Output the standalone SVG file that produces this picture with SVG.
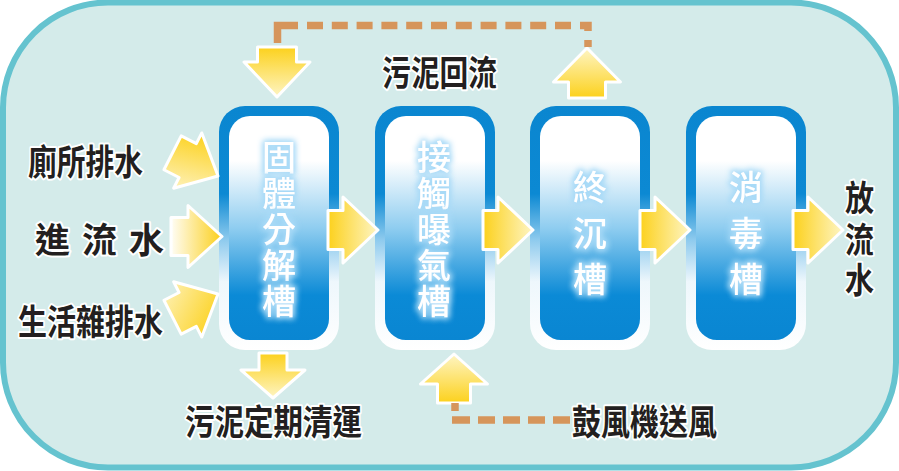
<svg xmlns="http://www.w3.org/2000/svg" width="899" height="471" viewBox="0 0 899 471">
<defs>
<style>
.lbl{font-family:"Noto Sans CJK TC","Noto Sans CJK SC",sans-serif;font-weight:700;font-size:35px;fill:#231f20;stroke:#ffffff;stroke-width:4px;paint-order:stroke;stroke-linejoin:round}
.tank{font-family:"Noto Sans CJK TC","Noto Sans CJK SC",sans-serif;font-weight:500;font-size:34px;fill:#ffffff;text-anchor:middle;filter:url(#glow)}
.arr{stroke:#ffffff;stroke-width:3;stroke-linejoin:round}
.dash{fill:none;stroke:#d6955b;stroke-width:7.5}
</style>
<linearGradient id="gOuter" x1="0" y1="0" x2="0" y2="1">
<stop offset="0" stop-color="#0a86d0"/>
<stop offset="0.36" stop-color="#0c89d3"/>
<stop offset="0.55" stop-color="#8fcbee"/>
<stop offset="0.72" stop-color="#eef7fc"/>
<stop offset="1" stop-color="#ffffff"/>
</linearGradient>
<linearGradient id="gInner" x1="0" y1="0" x2="0" y2="1">
<stop offset="0" stop-color="#ffffff"/>
<stop offset="0.2" stop-color="#ffffff"/>
<stop offset="0.5" stop-color="#8fcdf0"/>
<stop offset="0.8" stop-color="#0b8ad6"/>
<stop offset="1" stop-color="#0a86d2"/>
</linearGradient>
<linearGradient id="gTail" x1="0" y1="0" x2="1" y2="0">
<stop offset="0" stop-color="#fcd11c"/>
<stop offset="1" stop-color="#fef5c4"/>
</linearGradient>
<linearGradient id="gTip" x1="0" y1="0" x2="1" y2="0">
<stop offset="0" stop-color="#fffdf6"/>
<stop offset="1" stop-color="#fbcf19"/>
</linearGradient>
<linearGradient id="gUp" x1="0.4" y1="0" x2="0.6" y2="1">
<stop offset="0" stop-color="#fcd11c"/>
<stop offset="1" stop-color="#fef3c0"/>
</linearGradient>
<linearGradient id="gDn" x1="0" y1="0" x2="0.6" y2="1">
<stop offset="0" stop-color="#fef3c0"/>
<stop offset="1" stop-color="#fcd11c"/>
</linearGradient>
<filter id="glow" x="-40%" y="-40%" width="180%" height="180%">
<feMorphology in="SourceAlpha" operator="dilate" radius="1" result="d"/>
<feGaussianBlur in="d" stdDeviation="3" result="b"/>
<feFlood flood-color="#a8daf7"/>
<feComposite in2="b" operator="in" result="g"/>
<feMerge><feMergeNode in="g"/><feMergeNode in="g"/><feMergeNode in="SourceGraphic"/></feMerge>
</filter>
<path id="aBox" d="M-50,-19.5 H-35 V-33 L0,0 L-35,33 V19.5 H-50 Z"/>
<path id="aIn" d="M-51,-19 H-34 V-31 L0,0 L-34,31 V19 H-51 Z"/>
</defs>

<rect id="frame" x="3" y="2.5" width="893" height="465" rx="105" fill="#d4ebea" stroke="#65c3cf" stroke-width="6"/>

<g id="tank1">
<rect x="219" y="106" width="120" height="244" rx="26" fill="url(#gOuter)"/>
<rect x="229" y="116" width="100" height="224" rx="21" fill="url(#gInner)"/>
<text class="tank" x="279" y="170">固</text>
<text class="tank" x="279" y="206">體</text>
<text class="tank" x="279" y="242">分</text>
<text class="tank" x="279" y="278">解</text>
<text class="tank" x="279" y="314">槽</text>
</g>
<g id="tank2">
<rect x="375" y="106" width="120" height="244" rx="26" fill="url(#gOuter)"/>
<rect x="385" y="116" width="100" height="224" rx="21" fill="url(#gInner)"/>
<text class="tank" x="434" y="170">接</text>
<text class="tank" x="434" y="206">觸</text>
<text class="tank" x="434" y="242">曝</text>
<text class="tank" x="434" y="278">氣</text>
<text class="tank" x="434" y="314">槽</text>
</g>
<g id="tank3">
<rect x="530" y="106" width="120" height="244" rx="26" fill="url(#gOuter)"/>
<rect x="540" y="116" width="100" height="224" rx="21" fill="url(#gInner)"/>
<text class="tank" x="590" y="200">終</text>
<text class="tank" x="590" y="246">沉</text>
<text class="tank" x="590" y="292">槽</text>
</g>
<g id="tank4">
<rect x="686" y="106" width="120" height="244" rx="26" fill="url(#gOuter)"/>
<rect x="696" y="116" width="100" height="224" rx="21" fill="url(#gInner)"/>
<text class="tank" x="746" y="200">消</text>
<text class="tank" x="746" y="246">毒</text>
<text class="tank" x="746" y="292">槽</text>
</g>

<g id="connectors">
<use href="#aIn" class="arr" fill="url(#gUp)" transform="translate(218,176) rotate(27)"/>
<use href="#aIn" class="arr" fill="url(#gTip)" transform="translate(222,236.5)"/>
<use href="#aIn" class="arr" fill="url(#gDn)" transform="translate(218,294) rotate(-27)"/>
<use href="#aBox" class="arr" fill="url(#gTail)" transform="translate(378,230)"/>
<use href="#aBox" class="arr" fill="url(#gTail)" transform="translate(533,230)"/>
<use href="#aBox" class="arr" fill="url(#gTail)" transform="translate(690,230)"/>
<use href="#aBox" class="arr" fill="url(#gTail)" transform="translate(843,230)"/>
<use href="#aBox" class="arr" fill="url(#gTail)" transform="translate(277,97) rotate(90)"/>
<path class="arr" fill="url(#gTail)" d="M-45,-14 H-28 V-32 L0,0 L-28,32 V14 H-45 Z" transform="translate(273,398) rotate(90)"/>
<path class="arr" fill="url(#gTail)" d="M-50,-18.5 H-34 V-33.5 L0,0 L-34,33.5 V18.5 H-50 Z" transform="translate(587,48) rotate(-90)"/>
<path class="arr" fill="url(#gTail)" d="M-49,-16.5 H-30 V-33.5 L0,0 L-30,33.5 V16.5 H-49 Z" transform="translate(454,354) rotate(-90)"/>
<path class="dash" d="M277.5,43 V25.5 H298"/>
<path class="dash" d="M307,25.5 H571" stroke-dasharray="16 8.8"/>
<path class="dash" d="M580,25.5 H588 V31"/>
<path class="dash" d="M588,40 V47"/>
<path class="dash" d="M455,403 V411"/>
<path class="dash" d="M452,420 H470"/>
<path class="dash" d="M478,420 H570" stroke-dasharray="17 8"/>
</g>

<g id="labels">
<text class="lbl" x="28" y="175" textLength="115" lengthAdjust="spacingAndGlyphs">廁所排水</text>
<text class="lbl"><tspan x="35" y="253">進</tspan> <tspan x="82" y="253">流</tspan> <tspan x="129" y="253">水</tspan></text>
<text class="lbl" x="18" y="335" textLength="145" lengthAdjust="spacingAndGlyphs">生活雜排水</text>
<text class="lbl" x="382" y="86" textLength="115" lengthAdjust="spacingAndGlyphs">污泥回流</text>
<text class="lbl" x="185" y="435" textLength="177" lengthAdjust="spacingAndGlyphs">污泥定期清運</text>
<text class="lbl" x="572" y="435" textLength="145" lengthAdjust="spacingAndGlyphs">鼓風機送風</text>
<text class="lbl" x="845" y="211" textLength="29" lengthAdjust="spacingAndGlyphs">放</text>
<text class="lbl" x="845" y="253" textLength="29" lengthAdjust="spacingAndGlyphs">流</text>
<text class="lbl" x="845" y="293" textLength="29" lengthAdjust="spacingAndGlyphs">水</text>
</g>
</svg>
